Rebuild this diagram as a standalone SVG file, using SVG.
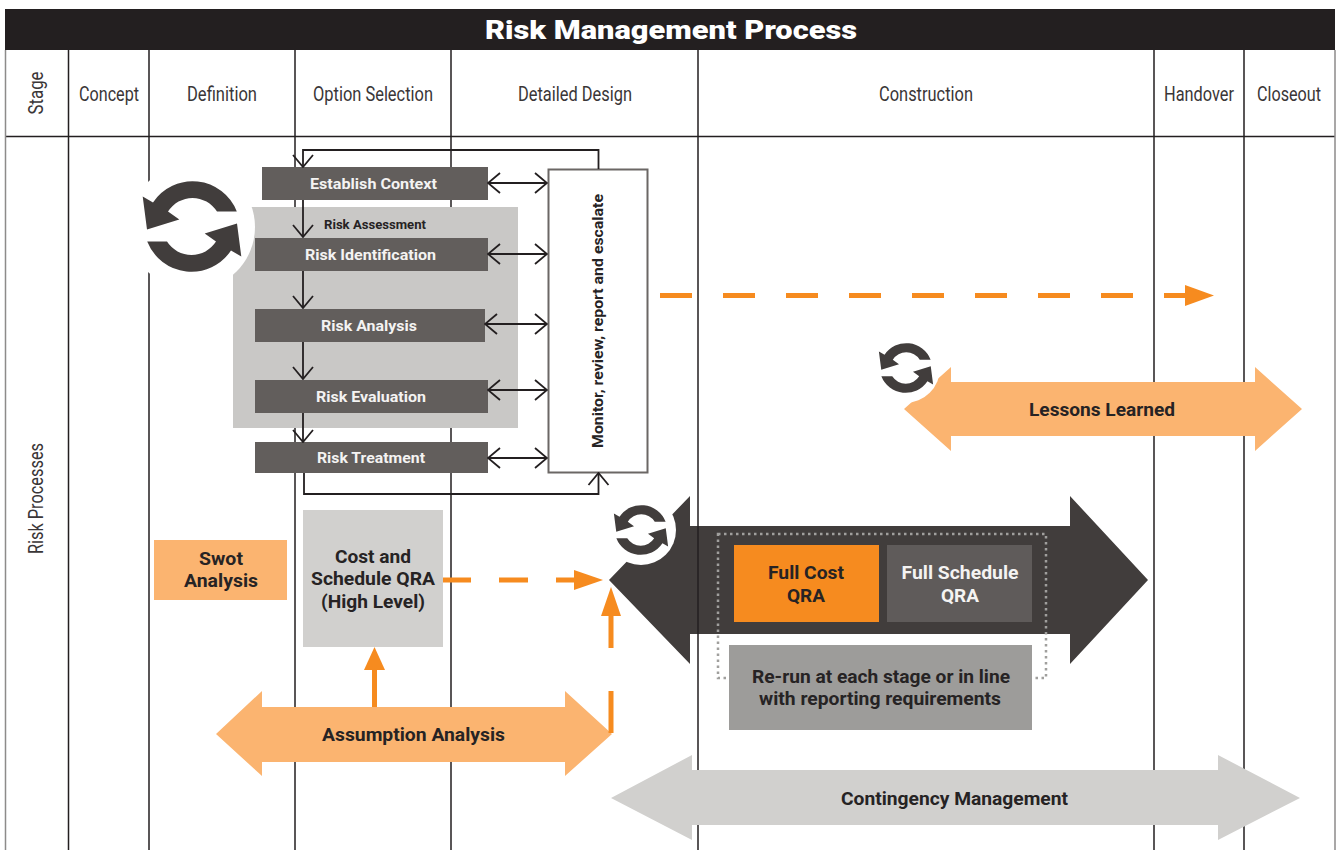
<svg xmlns="http://www.w3.org/2000/svg" width="1339" height="850" viewBox="0 0 1339 850">
<style>
text{font-family:Roboto,"Liberation Sans",sans-serif;text-anchor:middle}
.hd{font-size:19.5px;fill:#3a3637}
.b{font-weight:700}
.w{fill:#f4f3f2}
.d{fill:#262324}
.s{font-size:15px}
.m{font-size:19px}
.grid{stroke:#231f20;stroke-width:1.5;fill:none}
.box{fill:#625e5c}
.lo{fill:#fbb470}
.lg{fill:#d1d0ce}
.thin{stroke:#231f20;stroke-width:1.8;fill:none}
.or{stroke:#f68b1f;stroke-width:5;fill:none}
.orh{fill:#f68b1f}
</style>
<defs>
<marker id="v" viewBox="0 0 14 24" refX="13" refY="12" markerWidth="14" markerHeight="24" markerUnits="userSpaceOnUse" orient="auto-start-reverse"><path d="M1,2 L13,12 L1,22" fill="none" stroke="#231f20" stroke-width="1.8"/></marker>
<g id="cyc">
<path id="cyc1" d="M44.800,-15 L25,-15 A29 29 0 0 0 -24,-15 L-12.700,-7 L-45,3 L-49.300,-30 L-39,-24 A47.500 47.500 0 0 1 44.800,-15 Z" fill="#413d3c"/>
<use href="#cyc1" transform="rotate(180)"/>
</g>
</defs>
<rect width="1339" height="850" fill="#fff"/>
<g id="grid" class="grid">
<path d="M68.500 50V850M149 50V850M295 50V850M451 50V850M698 50V850M1154 50V850M1244 50V850M5 136.500H1335"/>
<path d="M5.500 50V850M1335 50V850" stroke="#8d8b8a"/>
</g>
<g id="title"><rect x="5" y="9" width="1330" height="41" fill="#231f20"/><text x="671" y="39" font-size="26" font-weight="900" fill="#fff" textLength="372" lengthAdjust="spacingAndGlyphs">Risk Management Process</text></g>
<g id="headers">
<text class="hd" transform="translate(43,93) rotate(-90)" textLength="43" lengthAdjust="spacingAndGlyphs">Stage</text>
<text class="hd" x="109" y="100.500" textLength="60" lengthAdjust="spacingAndGlyphs">Concept</text>
<text class="hd" x="222" y="100.500" textLength="70" lengthAdjust="spacingAndGlyphs">Definition</text>
<text class="hd" x="373" y="100.500" textLength="120" lengthAdjust="spacingAndGlyphs">Option Selection</text>
<text class="hd" x="575" y="100.500" textLength="114" lengthAdjust="spacingAndGlyphs">Detailed Design</text>
<text class="hd" x="926" y="100.500" textLength="94" lengthAdjust="spacingAndGlyphs">Construction</text>
<text class="hd" x="1199" y="100.500" textLength="70" lengthAdjust="spacingAndGlyphs">Handover</text>
<text class="hd" x="1289" y="100.500" textLength="64" lengthAdjust="spacingAndGlyphs">Closeout</text>
<text class="hd" transform="translate(43,498.500) rotate(-90)" textLength="111" lengthAdjust="spacingAndGlyphs">Risk Processes</text>
</g>
<g id="risk-assessment">
<rect x="233" y="207" width="285" height="221" fill="#c9c8c6"/>
<circle cx="192" cy="227" r="63" fill="#fff"/>
<use href="#cyc" transform="translate(192,226.500)"/>
<text class="d b" x="375" y="229" font-size="12.500" textLength="102" lengthAdjust="spacingAndGlyphs">Risk Assessment</text>
</g>
<g id="establish-context"><rect class="box" x="262" y="167" width="226" height="33"/><text class="w b s" x="373.500" y="189" textLength="127" lengthAdjust="spacingAndGlyphs">Establish Context</text></g>
<g id="risk-identification"><rect class="box" x="255" y="238" width="233" height="33"/><text class="w b s" x="370.500" y="260" textLength="131" lengthAdjust="spacingAndGlyphs">Risk Identification</text></g>
<g id="risk-analysis"><rect class="box" x="255" y="309" width="230" height="33"/><text class="w b s" x="369" y="331" textLength="96" lengthAdjust="spacingAndGlyphs">Risk Analysis</text></g>
<g id="risk-evaluation"><rect class="box" x="255" y="380" width="233" height="33"/><text class="w b s" x="371" y="402" textLength="110" lengthAdjust="spacingAndGlyphs">Risk Evaluation</text></g>
<g id="risk-treatment"><rect class="box" x="255" y="442" width="233" height="31"/><text class="w b s" x="371" y="463" textLength="108" lengthAdjust="spacingAndGlyphs">Risk Treatment</text></g>
<g id="monitor"><rect x="548.500" y="169.500" width="99" height="303" fill="#fff" stroke="#6b6765" stroke-width="2"/><text class="d b s" transform="translate(603,321) rotate(-90)" textLength="254" lengthAdjust="spacingAndGlyphs">Monitor, review, report and escalate</text></g>
<g id="swot"><rect class="lo" x="154" y="540" width="133" height="60"/><text class="d b m" x="221" y="565" textLength="44" lengthAdjust="spacingAndGlyphs">Swot</text><text class="d b m" x="221" y="587" textLength="74" lengthAdjust="spacingAndGlyphs">Analysis</text></g>
<g id="cost-schedule-hl"><rect class="lg" x="303" y="510" width="140" height="137"/><text class="d b m" x="373" y="563" textLength="76" lengthAdjust="spacingAndGlyphs">Cost and</text><text class="d b m" x="373" y="585" textLength="124" lengthAdjust="spacingAndGlyphs">Schedule QRA</text><text class="d b m" x="373" y="608" textLength="104" lengthAdjust="spacingAndGlyphs">(High Level)</text></g>
<g id="assumption"><path class="lo" d="M216,734 L262,691 V707 H565 V691 L612,734 L565,776 V762 H262 V776 Z"/><text class="d b m" x="413.500" y="741" textLength="183" lengthAdjust="spacingAndGlyphs">Assumption Analysis</text></g>
<g id="contingency"><path class="lg" d="M611,798 L692,755 V770 H1218 V755 L1300,798 L1218,840 V825 H692 V840 Z"/><text class="d b m" x="954.500" y="805" textLength="227" lengthAdjust="spacingAndGlyphs">Contingency Management</text></g>
<g id="lessons"><path class="lo" d="M904,409 L951,367 V382 H1255 V367 L1302,409 L1255,451 V436 H951 V451 Z"/><circle cx="905" cy="368" r="35" fill="#fff"/><use href="#cyc" transform="translate(906,368) scale(.55)"/><text class="d b m" x="1102" y="416" textLength="146" lengthAdjust="spacingAndGlyphs">Lessons Learned</text></g>
<g id="full-qra-arrow"><path fill="#413d3c" d="M609,580 L690,496 V526 H1070 V496 L1148,580 L1070,664 V634 H690 V664 Z"/><circle cx="641" cy="530" r="35" fill="#fff"/><use href="#cyc" transform="translate(641,530) scale(.55)"/><path d="M698 526V634" stroke="#231f20" stroke-width="1.500"/></g>
<g id="dotted-frame"><rect x="718" y="534" width="328" height="144" fill="none" stroke="#a09f9d" stroke-width="2.500" stroke-dasharray="2.500 3.500"/></g>
<g id="full-cost"><rect x="734" y="545" width="145" height="77" fill="#f68b1f"/><text class="d b m" x="806" y="579" textLength="76" lengthAdjust="spacingAndGlyphs">Full Cost</text><text class="d b m" x="806" y="602" textLength="38" lengthAdjust="spacingAndGlyphs">QRA</text></g>
<g id="full-schedule"><rect x="887" y="545" width="145" height="77" fill="#5f5b5a"/><text class="w b m" x="960" y="579" textLength="117" lengthAdjust="spacingAndGlyphs">Full Schedule</text><text class="w b m" x="960" y="602" textLength="38" lengthAdjust="spacingAndGlyphs">QRA</text></g>
<g id="rerun"><rect x="729" y="645" width="303" height="85" fill="#9d9c9a"/><text class="d b m" x="881" y="683" textLength="258" lengthAdjust="spacingAndGlyphs">Re-run at each stage or in line</text><text class="d b m" x="880" y="705" textLength="242" lengthAdjust="spacingAndGlyphs">with reporting requirements</text></g>
<g id="connectors">
<path class="thin" marker-end="url(#v)" d="M598.500,169 V150 H303 V167"/>
<path class="thin" marker-end="url(#v)" d="M304,473 V494 H598.500 V473"/>
<path class="thin" marker-end="url(#v)" d="M303,200 V237"/>
<path class="thin" marker-end="url(#v)" d="M303,271 V308"/>
<path class="thin" marker-end="url(#v)" d="M303,342 V379"/>
<path class="thin" marker-end="url(#v)" d="M303,413 V442"/>
<path class="thin" marker-start="url(#v)" marker-end="url(#v)" d="M488,183 H547"/>
<path class="thin" marker-start="url(#v)" marker-end="url(#v)" d="M488,254 H547"/>
<path class="thin" marker-start="url(#v)" marker-end="url(#v)" d="M485,324 H547"/>
<path class="thin" marker-start="url(#v)" marker-end="url(#v)" d="M488,390 H547"/>
<path class="thin" marker-start="url(#v)" marker-end="url(#v)" d="M488,458 H547"/>
<path class="or" d="M660,295.500 H1185" stroke-dasharray="32 31"/>
<path class="orh" d="M1185,285 L1214,295.500 L1185,306 Z"/>
<path class="or" d="M443,580 H471 M499,580 H528 M556,580 H576"/>
<path class="orh" d="M574,570 L603,580 L574,590 Z"/>
<path class="or" d="M611,733 V691 M611,648 V612"/>
<path class="orh" d="M601,616 L611,587 L621,616 Z"/>
<path class="or" d="M374.500,707 V668"/>
<path class="orh" d="M364,670 L374.500,647 L385,670 Z"/>
</g>
</svg>
